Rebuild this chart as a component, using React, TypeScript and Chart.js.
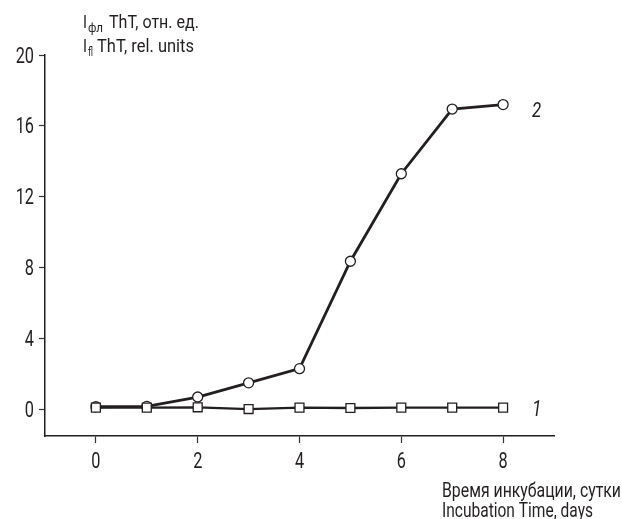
import React, { useEffect, useRef } from "react";
import { Chart, registerables } from "chart.js";

Chart.register(...registerables);

const days = [0, 1, 2, 3, 4, 5, 6, 7, 8];
const series1 = [0.1, 0.1, 0.12, 0.02, 0.1, 0.08, 0.1, 0.1, 0.1];
const series2 = [0.15, 0.17, 0.7, 1.5, 2.3, 8.36, 13.3, 16.95, 17.2];
const xTicks = [0, 2, 4, 6, 8];
const yTicks = [0, 4, 8, 12, 16, 20];
const seriesLabels = ["1", "2"];
const yTitle1 = ["I", "фл", "ThT, отн. ед."];
const yTitle2 = ["I", "fl", "ThT, rel. units"];
const xTitle = ["Время инкубации, сутки", "Incubation Time, days"];

const FONT = "Roboto, 'Noto Sans', sans-serif";
const INK = "#231f20";
const SQUEEZE = 0.74;

export default function App() {
  const ref = useRef<HTMLCanvasElement | null>(null);
  useEffect(() => {
    if (!ref.current) return;
    const textPlugin = {
      id: "texts",
      afterDraw(chart: any) {
        const ctx = chart.ctx;
        const xs = chart.scales.x;
        const ys = chart.scales.y;
        ctx.save();
        ctx.fillStyle = INK;
        ctx.textBaseline = "alphabetic";
        ctx.textAlign = "left";
        const fit = (text: string, x: number, y: number, width: number, font: string) => {
          ctx.font = font;
          const w = ctx.measureText(text).width;
          const sx = width / w;
          ctx.save();
          ctx.translate(x, y);
          ctx.scale(sx, 1);
          ctx.fillText(text, 0, 0);
          ctx.restore();
        };
        const squeezed = (text: string, x: number, y: number, align: string, baseline: string, font: string, sx: number) => {
          ctx.save();
          ctx.font = font;
          ctx.textAlign = align;
          ctx.textBaseline = baseline;
          ctx.translate(x, y);
          ctx.scale(sx, 1);
          ctx.fillText(text, 0, 0);
          ctx.restore();
        };
        // tick labels from the library's scales
        const tickFont = `22px ${FONT}`;
        xs.ticks.forEach((t: any) => {
          squeezed(String(t.value), xs.getPixelForValue(t.value), 467.5, "center", "alphabetic", tickFont, SQUEEZE);
        });
        ys.ticks.forEach((t: any) => {
          squeezed(String(t.value), 34, ys.getPixelForValue(t.value) + 7.5, "right", "alphabetic", tickFont, SQUEEZE);
        });
        // y title line 1
        fit(yTitle1[0], 83, 28, 4, `19px ${FONT}`);
        fit(yTitle1[1], 88, 32, 15, `12px ${FONT}`);
        fit(yTitle1[2], 109, 28, 90, `19px ${FONT}`);
        // y title line 2
        fit(yTitle2[0], 83, 52, 4, `19px ${FONT}`);
        fit(yTitle2[1], 88, 56, 5, `12px ${FONT}`);
        fit(yTitle2[2], 97, 52, 97, `19px ${FONT}`);
        // x title
        fit(xTitle[0], 442, 497, 179, `20px ${FONT}`);
        fit(xTitle[1], 442, 517, 151, `20px ${FONT}`);
        // series labels
        const last = days.length - 1;
        const xl = xs.getPixelForValue(days[last]) + 29;
        squeezed(seriesLabels[0], xl, ys.getPixelForValue(series1[last]) + 8, "left", "alphabetic", `italic 22px ${FONT}`, 0.8);
        squeezed(seriesLabels[1], xl, ys.getPixelForValue(series2[last]) + 12.5, "left", "alphabetic", `italic 21px ${FONT}`, 0.8);
        ctx.restore();
      },
    };
    const chart = new Chart(ref.current, {
      type: "line",
      data: {
        labels: days,
        datasets: [
          {
            label: seriesLabels[0],
            data: days.map((d, i) => ({ x: d, y: series1[i] })),
            borderColor: INK,
            borderWidth: 2.3,
            pointStyle: "rect",
            pointRadius: 6.3,
            pointBackgroundColor: "#ffffff",
            pointBorderColor: INK,
            pointBorderWidth: 1.3,
            tension: 0,
          },
          {
            label: seriesLabels[1],
            data: days.map((d, i) => ({ x: d, y: series2[i] })),
            borderColor: INK,
            borderWidth: 2.8,
            pointStyle: "circle",
            pointRadius: 5,
            pointBackgroundColor: "#ffffff",
            pointBorderColor: INK,
            pointBorderWidth: 1.3,
            tension: 0,
          },
        ],
      },
      options: {
        responsive: false,
        animation: false,
        layout: { padding: { top: 55, right: 68, left: 0, bottom: 0 } },
        plugins: { legend: { display: false }, tooltip: { enabled: false } },
        scales: {
          x: {
            type: "linear",
            min: -1,
            max: 9,
            afterBuildTicks: (s: any) => {
              s.ticks = xTicks.map((v) => ({ value: v }));
            },
            afterFit: (s: any) => {
              s.height = 83;
            },
            grid: {
              display: true,
              drawOnChartArea: false,
              drawTicks: true,
              tickLength: 7,
              tickColor: "#333",
              tickWidth: 1.2,
            },
            border: { display: true, color: INK, width: 1.5 },
            ticks: { display: false },
          },
          y: {
            type: "linear",
            min: -1.5,
            max: 20,
            afterBuildTicks: (s: any) => {
              s.ticks = yTicks.map((v) => ({ value: v }));
            },
            afterFit: (s: any) => {
              s.width = 45;
            },
            grid: {
              display: true,
              drawOnChartArea: false,
              drawTicks: true,
              tickLength: 6,
              tickColor: "#333",
              tickWidth: 1.2,
            },
            border: { display: true, color: INK, width: 1.5 },
            ticks: { display: false },
          },
        },
      },
      plugins: [textPlugin],
    } as any);
    return () => chart.destroy();
  }, []);
  return (
    <div style={{ position: "absolute", left: 0, top: 0, width: 622, height: 519, background: "#fff" }}>
      <canvas ref={ref} width={622} height={519} style={{ display: "block" }} />
    </div>
  );
}
